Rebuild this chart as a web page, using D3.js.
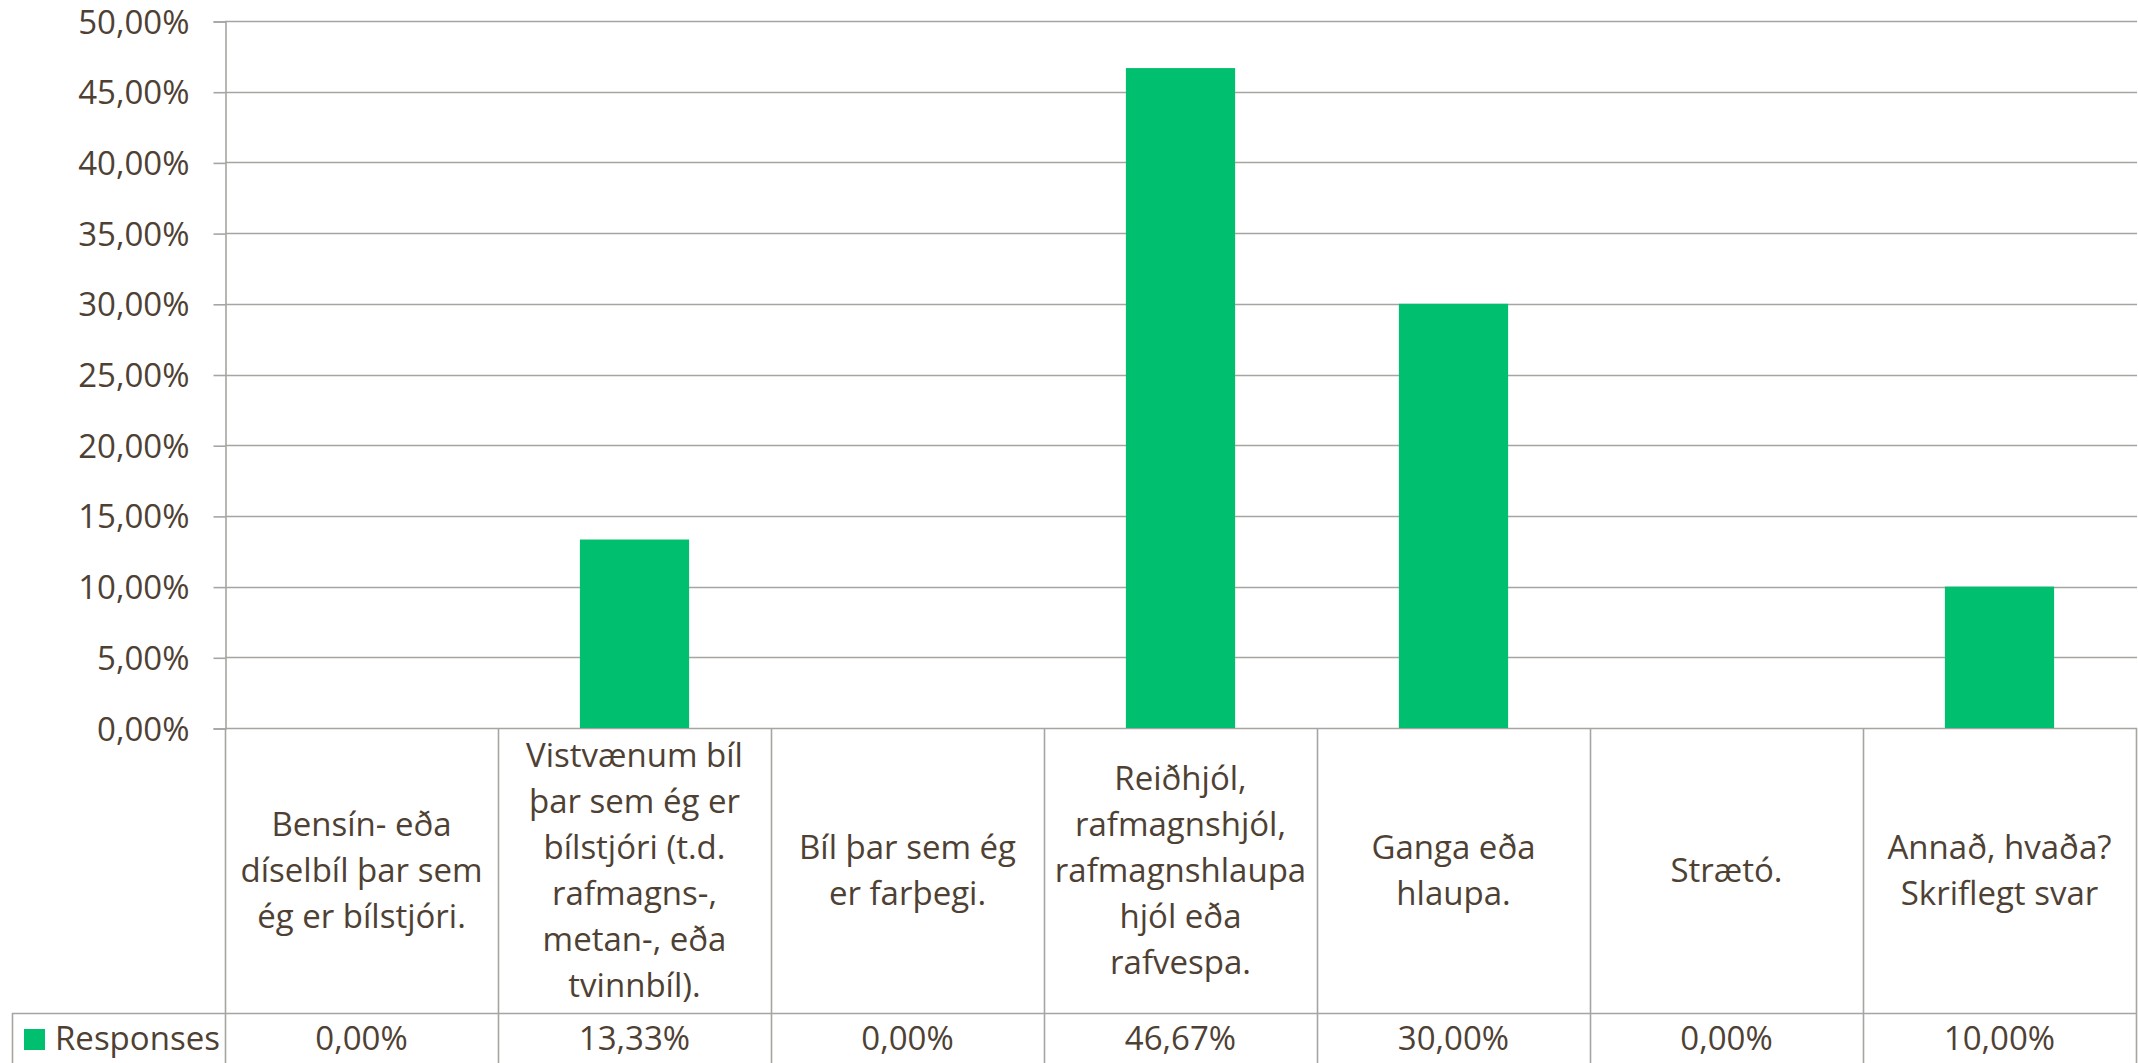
<!DOCTYPE html>
<html>
<head>
<meta charset="utf-8">
<script src="https://cdn.jsdelivr.net/npm/d3@7"></script>
<style>
  html, body { margin: 0; padding: 0; background: #fff; overflow: hidden; }
  svg { display: block; font-family: 'Open Sans', sans-serif; }
</style>
</head>
<body>
<div id="chart"></div>
<script>
// categories, each split into the lines shown in the table cell
const categories = [
  ['Bensín- eða', 'díselbíl þar sem', 'ég er bílstjóri.'],
  ['Vistvænum bíl', 'þar sem ég er', 'bílstjóri (t.d.', 'rafmagns-,', 'metan-, eða', 'tvinnbíl).'],
  ['Bíl þar sem ég', 'er farþegi.'],
  ['Reiðhjól,', 'rafmagnshjól,', 'rafmagnshlaupa', 'hjól eða', 'rafvespa.'],
  ['Ganga eða', 'hlaupa.'],
  ['Strætó.'],
  ['Annað, hvaða?', 'Skriflegt svar']
]
const responses = [0, 0.1333, 0, 0.4667, 0.30, 0, 0.10]
const yTicks = [0, 0.05, 0.10, 0.15, 0.20, 0.25, 0.30, 0.35, 0.40, 0.45, 0.50]
const seriesName = 'Responses'

const width = 2138
const height = 1063
const margin = { top: 21, left: 225, right: 2, bottom: 335 }
const tableBottomRow = 1013
const textColor = '#4e4134'
const lineColor = '#a7a5a1'
const green = '#00bf6f'

const locale = d3.formatLocale({ decimal: ',', thousands: '.', grouping: [3], currency: ['', ''] })
const pct = locale.format('.2%')

const svg = d3.select('#chart')
  .append('svg')
  .attr('width', width)
  .attr('height', height)

const ids = categories.map((d, i) => i)
const xCols = d3.scaleBand()
  .domain(ids)
  .range([margin.left, width - margin.right])
const xBars = d3.scaleBand()
  .domain(ids)
  .range([margin.left, width - margin.right])
  .paddingInner(0.6)
  .paddingOuter(0.3)
const yScale = d3.scaleLinear()
  .domain([0, 0.5])
  .range([height - margin.bottom, margin.top])
const plotBottom = yScale(0)

// gridlines
svg.append('g')
  .selectAll('line')
  .data(yTicks)
  .join('line')
  .attr('x1', margin.left)
  .attr('x2', width - 1)
  .attr('y1', d => Math.round(yScale(d)) + 0.5)
  .attr('y2', d => Math.round(yScale(d)) + 0.5)
  .attr('stroke', lineColor)
  .attr('stroke-width', 1.6)

// y axis
const axisY = d3.axisLeft(yScale)
  .tickValues(yTicks)
  .tickFormat(pct)
  .tickSize(12)
  .tickPadding(24)
const gy = svg.append('g')
  .attr('transform', `translate(${margin.left + 0.5}, 0.5)`)
  .call(axisY)
gy.select('.domain').attr('stroke', lineColor).attr('stroke-width', 1.6)
gy.selectAll('.tick line').attr('stroke', lineColor).attr('stroke-width', 1.6)
gy.selectAll('.tick text')
  .attr('fill', textColor)
  .style('font-size', '33px')
  .style('font-family', "'Open Sans', sans-serif")
  .attr('dy', '0.35em')

// bars
svg.append('g')
  .selectAll('rect')
  .data(responses)
  .join('rect')
  .attr('x', (d, i) => xBars(i))
  .attr('y', d => yScale(d))
  .attr('width', xBars.bandwidth())
  .attr('height', d => plotBottom - yScale(d))
  .attr('fill', green)

// data table below the plot
const table = svg.append('g')
const colEdges = ids.map(i => xCols(i)).concat([xCols(ids.length - 1) + xCols.bandwidth()])
table.selectAll('.vline')
  .data(colEdges)
  .join('line')
  .attr('class', 'vline')
  .attr('x1', d => Math.round(d) + 0.5)
  .attr('x2', d => Math.round(d) + 0.5)
  .attr('y1', plotBottom)
  .attr('y2', height)
  .attr('stroke', lineColor)
  .attr('stroke-width', 1.6)
table.append('line')
  .attr('x1', 12)
  .attr('x2', colEdges[colEdges.length - 1] + 0.5)
  .attr('y1', tableBottomRow + 0.5)
  .attr('y2', tableBottomRow + 0.5)
  .attr('stroke', lineColor)
  .attr('stroke-width', 1.6)
table.append('line')
  .attr('x1', 12.5)
  .attr('x2', 12.5)
  .attr('y1', tableBottomRow)
  .attr('y2', height)
  .attr('stroke', lineColor)
  .attr('stroke-width', 1.6)

const lineHeight = 46
const cellMid = (plotBottom + tableBottomRow) / 2
const labels = table.selectAll('.cat')
  .data(categories)
  .join('text')
  .attr('class', 'cat')
  .attr('text-anchor', 'middle')
  .attr('fill', textColor)
  .style('font-size', '33px')
labels.selectAll('tspan')
  .data((d, i) => d.map((t, j) => ({ t, j, n: d.length, i })))
  .join('tspan')
  .attr('x', d => xCols(d.i) + xCols.bandwidth() / 2)
  .attr('y', d => cellMid + 11 + (d.j - (d.n - 1) / 2) * lineHeight)
  .text(d => d.t)

// values row
table.selectAll('.val')
  .data(responses)
  .join('text')
  .attr('class', 'val')
  .attr('x', (d, i) => xCols(i) + xCols.bandwidth() / 2)
  .attr('y', 1050)
  .attr('text-anchor', 'middle')
  .attr('fill', textColor)
  .style('font-size', '33px')
  .text(d => pct(d))

// legend key
table.append('rect')
  .attr('x', 24)
  .attr('y', 1029)
  .attr('width', 21)
  .attr('height', 21)
  .attr('fill', green)
table.append('text')
  .attr('x', 55)
  .attr('y', 1050)
  .attr('fill', textColor)
  .style('font-size', '33px')
  .text(seriesName)
</script>
</body>
</html>
